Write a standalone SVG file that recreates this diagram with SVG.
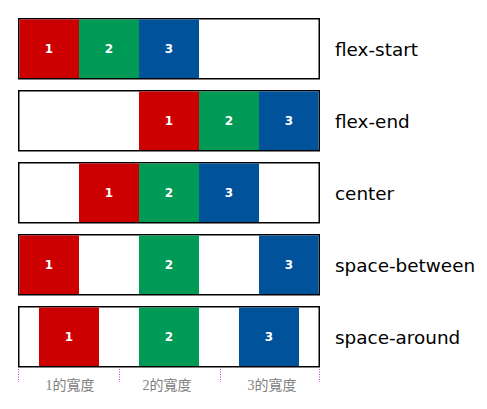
<svg xmlns="http://www.w3.org/2000/svg" width="487" height="409" viewBox="0 0 487 409">
<style>
.box{fill:#fff;stroke:#000;stroke-width:1.5}
.r{fill:#cc0000}.g{fill:#009a57}.b{fill:#00529b}
.n{fill:#fff;font-family:"DejaVu Sans",sans-serif;font-size:12px;font-weight:bold;text-anchor:middle}
.lbl{fill:#000;font-family:"DejaVu Sans",sans-serif;font-size:18.4px}
.w{fill:#808080;font-family:"Liberation Serif","Noto Sans CJK TC",serif;font-size:14px;text-anchor:middle}
.d{stroke:#cc33cc;stroke-width:1;stroke-dasharray:1 1.5}
</style>
<rect width="487" height="409" fill="#fff"/>
<g id="row-flex-start">
<rect class="box" x="18.75" y="18.75" width="300.5" height="60"/>
<rect class="r" x="19.5" y="19.5" width="59.5" height="58.5"/><rect class="g" x="79" y="19.5" width="60" height="58.5"/><rect class="b" x="139" y="19.5" width="60" height="58.5"/>
<text class="n" x="49" y="53">1</text><text class="n" x="109" y="53">2</text><text class="n" x="169" y="53">3</text>
<text class="lbl" x="335" y="56">flex-start</text>
</g>
<g id="row-flex-end">
<rect class="box" x="18.75" y="90.75" width="300.5" height="60"/>
<rect class="r" x="139" y="91.5" width="60" height="58.5"/><rect class="g" x="199" y="91.5" width="60" height="58.5"/><rect class="b" x="259" y="91.5" width="59.5" height="58.5"/>
<text class="n" x="169" y="125">1</text><text class="n" x="229" y="125">2</text><text class="n" x="289" y="125">3</text>
<text class="lbl" x="335" y="128">flex-end</text>
</g>
<g id="row-center">
<rect class="box" x="18.75" y="162.75" width="300.5" height="60"/>
<rect class="r" x="79" y="163.5" width="60" height="58.5"/><rect class="g" x="139" y="163.5" width="60" height="58.5"/><rect class="b" x="199" y="163.5" width="60" height="58.5"/>
<text class="n" x="109" y="197">1</text><text class="n" x="169" y="197">2</text><text class="n" x="229" y="197">3</text>
<text class="lbl" x="335" y="200">center</text>
</g>
<g id="row-space-between">
<rect class="box" x="18.75" y="234.75" width="300.5" height="60"/>
<rect class="r" x="19.5" y="235.5" width="59.5" height="58.5"/><rect class="g" x="139" y="235.5" width="60" height="58.5"/><rect class="b" x="259" y="235.5" width="59.5" height="58.5"/>
<text class="n" x="49" y="269">1</text><text class="n" x="169" y="269">2</text><text class="n" x="289" y="269">3</text>
<text class="lbl" x="335" y="272">space-between</text>
</g>
<g id="row-space-around">
<rect class="box" x="18.75" y="306.75" width="300.5" height="60"/>
<rect class="r" x="39" y="307.5" width="60" height="58.5"/><rect class="g" x="139" y="307.5" width="60" height="58.5"/><rect class="b" x="239" y="307.5" width="60" height="58.5"/>
<text class="n" x="69" y="341">1</text><text class="n" x="169" y="341">2</text><text class="n" x="269" y="341">3</text>
<text class="lbl" x="335" y="344">space-around</text>
</g>
<g id="widths">
<line class="d" x1="18.5" y1="369" x2="18.5" y2="382"/>
<line class="d" x1="119.5" y1="369" x2="119.5" y2="382"/>
<line class="d" x1="220.5" y1="369" x2="220.5" y2="382"/>
<line class="d" x1="319.5" y1="369" x2="319.5" y2="382"/>
<text class="w" x="70" y="390">1的寬度</text>
<text class="w" x="167" y="390">2的寬度</text>
<text class="w" x="272" y="390">3的寬度</text>
</g>
</svg>
